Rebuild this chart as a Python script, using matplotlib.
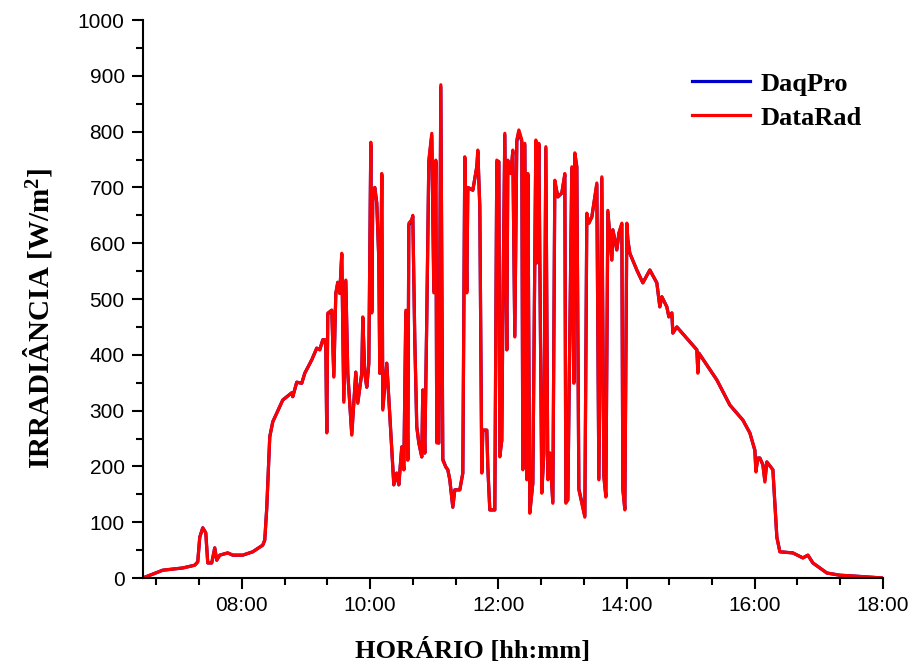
import matplotlib
matplotlib.use('Agg')
import matplotlib.pyplot as plt
from matplotlib.ticker import MultipleLocator, FuncFormatter

plt.rcParams['font.family'] = ['Liberation Sans', 'DejaVu Sans']

# hora do dia (horas decimais)
hora = [6.455, 6.767, 7.079, 7.266, 7.313, 7.344, 7.391, 7.438, 7.469, 7.531,
        7.578, 7.609, 7.656, 7.781, 7.859, 8.015, 8.171, 8.327, 8.358, 8.389,
        8.436, 8.483, 8.639, 8.779, 8.795, 8.857, 8.935, 8.982, 9.091, 9.169,
        9.216, 9.263, 9.294, 9.310, 9.325, 9.341, 9.403, 9.435, 9.466, 9.497,
        9.528, 9.559, 9.591, 9.622, 9.653, 9.715, 9.778, 9.809, 9.871, 9.887,
        9.918, 9.949, 9.981, 10.012, 10.027, 10.043, 10.074, 10.105, 10.137, 10.152,
        10.183, 10.199, 10.261, 10.371, 10.417, 10.449, 10.495, 10.527, 10.558, 10.589,
        10.605, 10.651, 10.667, 10.698, 10.729, 10.761, 10.807, 10.823, 10.854, 10.885,
        10.917, 10.963, 10.995, 11.026, 11.041, 11.073, 11.104, 11.135, 11.182, 11.213,
        11.244, 11.291, 11.322, 11.400, 11.447, 11.478, 11.509, 11.525, 11.603, 11.665,
        11.681, 11.712, 11.743, 11.759, 11.821, 11.837, 11.868, 11.946, 11.977, 12.009,
        12.024, 12.055, 12.071, 12.102, 12.133, 12.149, 12.196, 12.227, 12.258, 12.289,
        12.321, 12.367, 12.383, 12.414, 12.445, 12.461, 12.492, 12.539, 12.586, 12.601,
        12.633, 12.679, 12.711, 12.742, 12.773, 12.804, 12.851, 12.882, 12.929, 12.991,
        13.038, 13.054, 13.085, 13.147, 13.179, 13.194, 13.225, 13.257, 13.303, 13.350,
        13.381, 13.413, 13.459, 13.537, 13.569, 13.615, 13.647, 13.678, 13.709, 13.771,
        13.787, 13.849, 13.881, 13.927, 13.943, 13.974, 14.005, 14.021, 14.052, 14.161,
        14.255, 14.364, 14.473, 14.520, 14.551, 14.629, 14.661, 14.707, 14.723, 14.785,
        15.097, 15.113, 15.129, 15.409, 15.612, 15.815, 15.924, 16.002, 16.018, 16.049,
        16.080, 16.127, 16.158, 16.189, 16.283, 16.345, 16.392, 16.595, 16.751, 16.829,
        16.907, 17.125, 17.328, 17.484, 18.0]

datarad = [0, 14, 18, 23, 29, 73, 90, 81, 27, 27,
           54, 32, 41, 45, 41, 41, 47, 59, 68, 125,
           253, 280, 319, 332, 325, 351, 349, 367, 391, 412,
           409, 427, 427, 414, 260, 475, 480, 360, 511, 530,
           510, 582, 315, 534, 367, 256, 369, 313, 367, 468,
           367, 342, 385, 781, 475, 690, 700, 672, 570, 367,
           725, 301, 385, 167, 188, 167, 235, 194, 480, 211,
           636, 642, 650, 427, 271, 242, 217, 337, 224, 468,
           749, 797, 511, 749, 242, 242, 884, 211, 199, 194,
           176, 127, 158, 158, 188, 755, 511, 700, 695, 737,
           767, 665, 188, 265, 265, 199, 122, 122, 749, 746,
           217, 247, 468, 797, 409, 749, 725, 767, 432, 785,
           803, 785, 194, 779, 176, 725, 116, 170, 785, 565,
           779, 152, 224, 773, 176, 224, 134, 713, 683, 690,
           725, 134, 140, 737, 349, 762, 737, 158, 134, 109,
           654, 636, 647, 708, 176, 719, 181, 145, 659, 570,
           624, 588, 618, 636, 158, 122, 636, 606, 582, 552,
           529, 552, 529, 486, 504, 486, 468, 475, 439, 450,
           409, 367, 403, 355, 310, 283, 260, 229, 190, 215,
           215, 203, 172, 208, 194, 73, 47, 45, 36, 41,
           27, 9, 5, 4, 0]

daqpro = [0, 14, 18, 23, 29, 73, 90, 81, 27, 27,
          54, 32, 41, 45, 41, 41, 47, 59, 68, 125,
          253, 280, 319, 332, 325, 351, 349, 367, 391, 412,
          409, 427, 427, 414, 262, 473, 480, 362, 509, 530,
          510, 580, 318, 532, 367, 258, 369, 315, 367, 466,
          367, 342, 385, 776, 478, 688, 700, 672, 572, 367,
          722, 304, 385, 167, 188, 167, 235, 194, 476, 213,
          632, 642, 648, 427, 271, 242, 217, 337, 224, 466,
          746, 793, 514, 746, 244, 242, 880, 213, 199, 194,
          176, 127, 158, 158, 188, 752, 514, 700, 695, 737,
          764, 665, 190, 265, 265, 199, 122, 122, 746, 746,
          219, 247, 468, 794, 409, 746, 725, 764, 434, 782,
          800, 782, 196, 776, 178, 722, 118, 170, 782, 565,
          776, 154, 224, 770, 178, 224, 136, 710, 683, 690,
          722, 136, 140, 734, 351, 760, 737, 160, 136, 111,
          651, 636, 647, 705, 178, 716, 183, 147, 656, 570,
          624, 588, 618, 634, 160, 124, 634, 606, 582, 552,
          529, 552, 529, 486, 504, 486, 468, 475, 439, 450,
          409, 370, 403, 355, 310, 283, 260, 229, 192, 215,
          215, 203, 175, 208, 194, 73, 47, 45, 36, 41,
          27, 9, 5, 4, 0]


def hhmm(x, pos):
    h = int(x)
    m = int(round((x - h) * 60))
    if m == 60:
        h, m = h + 1, 0
    return '%02d:%02d' % (h, m)


fig = plt.figure(figsize=(9.15, 6.68), dpi=100)
ax = fig.add_axes([0.156, 0.1347, 0.809, 0.8353])

ax.plot(hora, daqpro, color='#0000CC', lw=2.3, label='DaqPro')
ax.plot(hora, datarad, color='#FF0000', lw=2.3, label='DataRad')

ax.set_xlim(6.455, 18.0)
ax.set_ylim(0, 1000)
ax.xaxis.set_major_locator(MultipleLocator(2))
ax.xaxis.set_minor_locator(MultipleLocator(2 / 3))
ax.xaxis.set_major_formatter(FuncFormatter(hhmm))
ax.yaxis.set_major_locator(MultipleLocator(100))
ax.yaxis.set_minor_locator(MultipleLocator(50))

for s in ['top', 'right']:
    ax.spines[s].set_visible(False)
for s in ['left', 'bottom']:
    ax.spines[s].set_linewidth(1.5)

ax.tick_params(which='major', direction='out', length=8, width=1.5, labelsize=15, pad=5)
ax.tick_params(which='minor', direction='out', length=5, width=1.5)

ax.set_xlabel('HORÁRIO [hh:mm]', family='Liberation Serif', weight='bold', size=19)
ax.set_ylabel(r'IRRADIÂNCIA [W/m$\mathregular{^2}$]', family='Liberation Serif',
              weight='bold', size=21)
ax.xaxis.set_label_coords(0.445, -0.108)
ax.yaxis.set_label_coords(-0.119, 0.466)

leg = ax.legend(loc='center left', bbox_to_anchor=(0.742, 0.855), frameon=False,
                prop={'family': 'Liberation Serif', 'weight': 'bold', 'size': 19},
                handlelength=2.2, handletextpad=0.4, borderpad=0, borderaxespad=0,
                labelspacing=0.4)

fig.savefig('out.png', dpi=100)
